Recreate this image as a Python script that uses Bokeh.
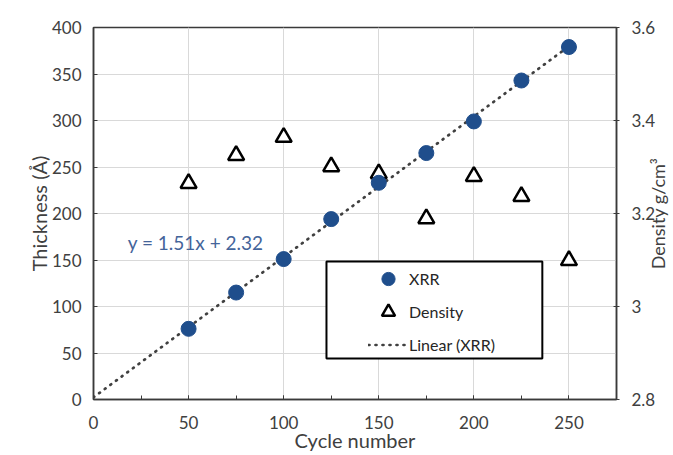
import math

from bokeh.embed import file_html
from bokeh.models import (BoxAnnotation, FixedTicker, Label, Legend, LegendItem,
                          LinearAxis, NumeralTickFormatter, Range1d,
                          SingleIntervalTicker)
from bokeh.plotting import figure
from bokeh.resources import INLINE

# Film growth: thickness from XRR and density per deposition cycle count
cycles = [50, 75, 100, 125, 150, 175, 200, 225, 250]
thickness = [76, 115, 151, 194, 233, 265, 299, 343, 379]
density = [3.265, 3.325, 3.364, 3.301, 3.286, 3.189, 3.280, 3.237, 3.099]

# Linear trendline of the XRR thickness
fit_slope = 1.51
fit_intercept = 2.32
fit_x = [0, 250]
fit_y = [fit_slope * x + fit_intercept for x in fit_x]

density_ticks = [2.8, 3.0, 3.2, 3.4, 3.6]

FONT = "Lato"
TEXT = "#404040"
FRAME = "#3a3a3a"

p = figure(width=673, height=455, output_backend="svg", toolbar_location=None,
           x_range=Range1d(0, 275), y_range=Range1d(0, 400),
           min_border_left=93, min_border_right=57,
           min_border_top=27, min_border_bottom=56)
p.extra_y_ranges = {"density": Range1d(2.8, 3.6)}
p.background_fill_color = "white"
p.border_fill_color = "white"
p.outline_line_color = FRAME
p.outline_line_width = 1.5

# grid
p.xgrid.ticker = SingleIntervalTicker(interval=50)
p.ygrid.ticker = SingleIntervalTicker(interval=50)
for g in (p.xgrid, p.ygrid):
    g.grid_line_color = "#d9d9d9"
    g.grid_line_width = 1

# bottom axis
xa = p.xaxis[0]
xa.ticker = SingleIntervalTicker(interval=50, num_minor_ticks=2)
xa.axis_label = "Cycle number"
xa.axis_label_standoff = -4

# left axis
ya = p.yaxis[0]
ya.ticker = SingleIntervalTicker(interval=50, num_minor_ticks=0)
ya.axis_label = "Thickness (Å)"
ya.axis_label_standoff = -2

# right axis for density
ra = LinearAxis(y_range_name="density", ticker=FixedTicker(ticks=density_ticks),
                formatter=NumeralTickFormatter(format="0.[0]"))
p.add_layout(ra, "right")

for ax in (xa, ya, ra):
    ax.axis_line_color = FRAME
    ax.axis_line_width = 1.5
    ax.major_tick_line_color = FRAME
    ax.minor_tick_line_color = FRAME
    ax.major_tick_in = 4
    ax.major_tick_out = 0
    ax.minor_tick_in = 4
    ax.minor_tick_out = 0
    ax.major_label_text_font = FONT
    ax.major_label_text_font_size = "17px"
    ax.major_label_text_color = TEXT
    ax.axis_label_text_font = FONT
    ax.axis_label_text_font_style = "normal"
    ax.axis_label_text_font_size = "20px"
    ax.axis_label_text_color = TEXT
xa.major_label_standoff = 16
ya.major_label_standoff = 12
ra.major_tick_in = 3
ra.major_tick_out = 3
ra.minor_tick_in = 0
ra.major_label_standoff = 12

# density axis title, reading upwards beside the right tick labels
# (placed in a side panel so it is drawn outside the plot frame)
p.add_layout(Label(x=297, y=200, text="Density g/cm³", angle=math.pi / 2,
                   text_font=FONT, text_font_size="18px", text_color=TEXT,
                   text_align="center", text_baseline="middle"), "left")

# data
fit = p.line(fit_x, fit_y, line_color="#404040", line_width=2.7,
             line_dash="1 6", line_cap="round")
dens = p.scatter(cycles, density, y_range_name="density", marker="triangle",
                 size=16, fill_color="white", line_color="black", line_width=2.5)
xrr = p.scatter(cycles, thickness, marker="circle", size=15,
                fill_color="#1f4e8c", line_color="#1f4e8c")

p.add_layout(Label(x=18, y=169, text=f"y = {fit_slope}x + {fit_intercept}",
                   text_font=FONT, text_font_size="19px",
                   text_color="#44649a", text_baseline="middle"))

# legend frame and entries
p.add_layout(BoxAnnotation(left=122.5, right=236, bottom=44, top=148.5,
                           fill_color="white", fill_alpha=1,
                           line_color="black", line_alpha=1, line_width=2,
                           level="overlay"))
legend = Legend(items=[LegendItem(label="XRR", renderers=[xrr]),
                       LegendItem(label="Density", renderers=[dens]),
                       LegendItem(label="Linear (XRR)", renderers=[fit])],
                location=(275, 38), padding=0, margin=0, spacing=0,
                glyph_width=40, glyph_height=33, label_height=33,
                label_standoff=1, border_line_alpha=0, background_fill_alpha=0,
                label_text_font=FONT, label_text_font_size="16px",
                label_text_color="#262626")
p.add_layout(legend, "center")

open("out.html", "w").write(file_html(p, INLINE))
